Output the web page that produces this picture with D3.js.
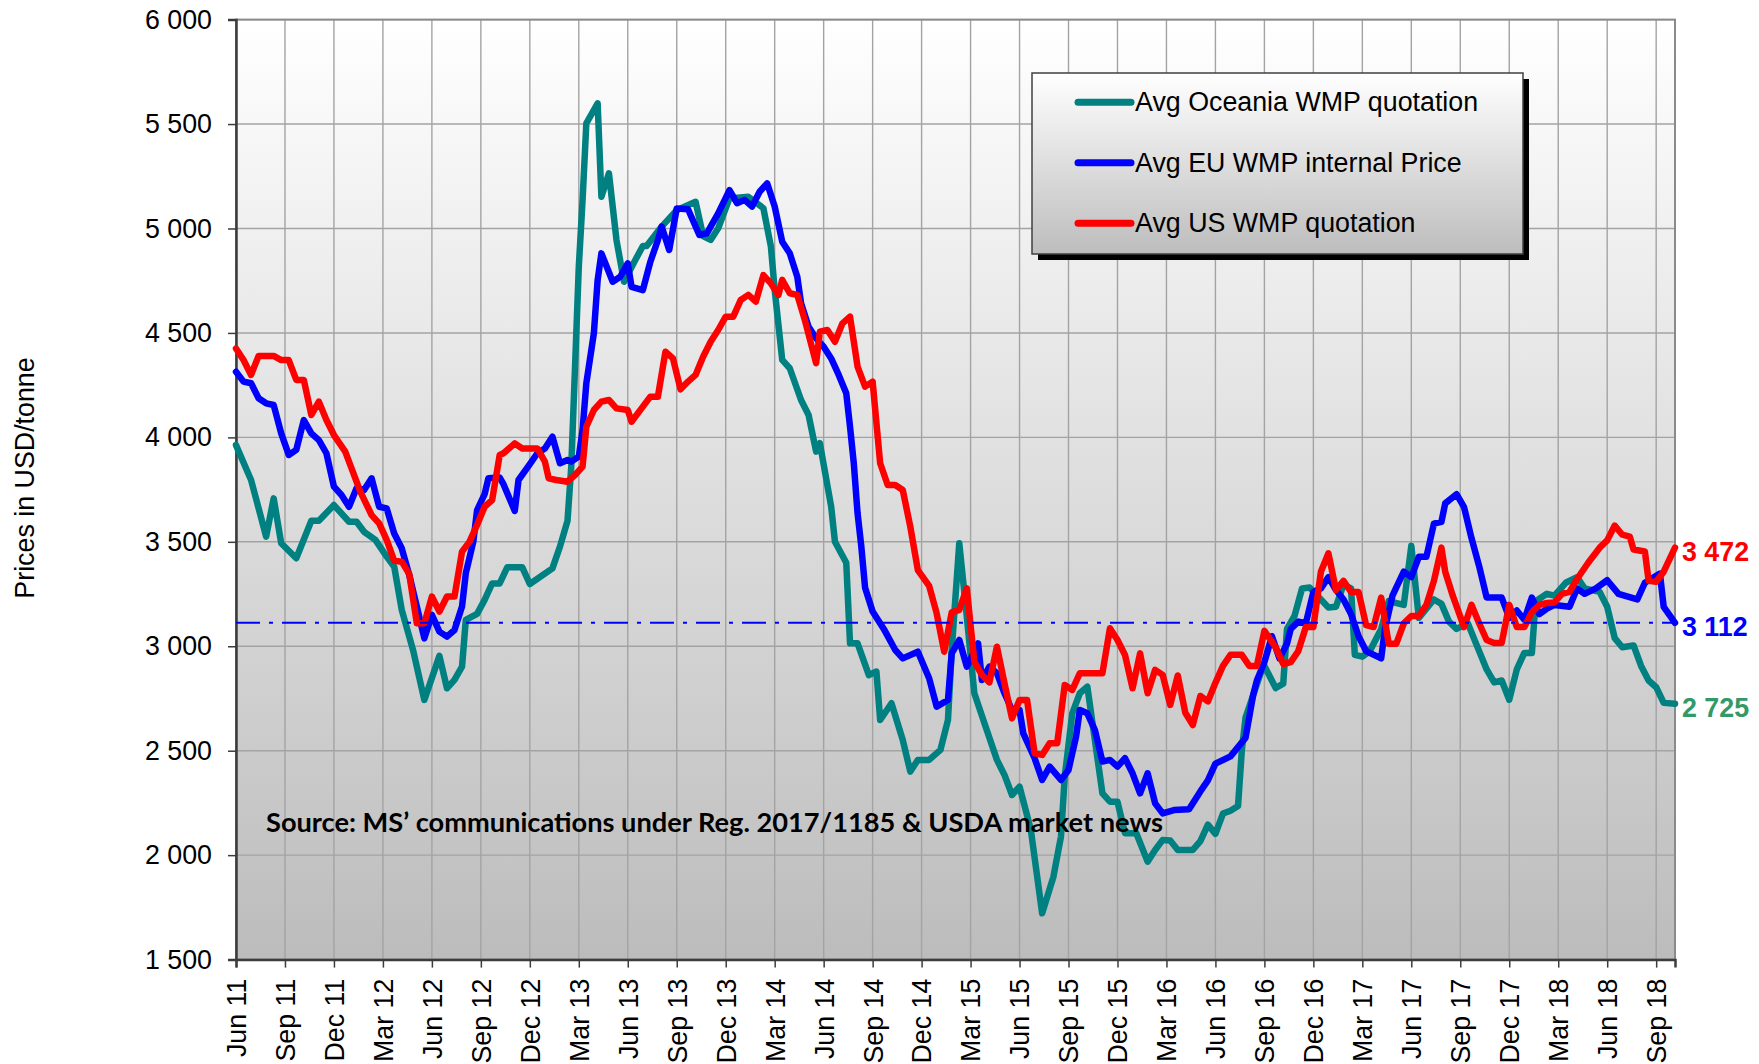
<!DOCTYPE html>
<html lang="en">
<head>
  <meta charset="UTF-8" />
  <title>Avg WMP prices</title>
  <script src="https://d3js.org/d3.v7.min.js"></script>
  <style>
    body { margin: 0; background: #fff; }
    svg text { font-family: "Liberation Sans", Arial, sans-serif; fill: #000; }
    .grid line { stroke: #a3a3a3; stroke-width: 1.4; }
    .series { fill: none; stroke-width: 6.5; stroke-linejoin: round; stroke-linecap: round; }
  </style>
</head>
<body>
  <svg id="chart" width="1759" height="1064"></svg>

  <script>
    // x = week number counted from the first week of June 2011, one label every 13 weeks
    const quarterLabels = ["Jun 11", "Sep 11", "Dec 11", "Mar 12", "Jun 12", "Sep 12", "Dec 12", "Mar 13",
      "Jun 13", "Sep 13", "Dec 13", "Mar 14", "Jun 14", "Sep 14", "Dec 14", "Mar 15", "Jun 15", "Sep 15",
      "Dec 15", "Mar 16", "Jun 16", "Sep 16", "Dec 16", "Mar 17", "Jun 17", "Sep 17", "Dec 17", "Mar 18",
      "Jun 18", "Sep 18"];
    const weeksPerLabel = 13;
    const lastWeek = 382;
    const yTicks = [1500, 2000, 2500, 3000, 3500, 4000, 4500, 5000, 5500, 6000];

    // [week, USD/tonne]
    const oceania = [[0,3963],[4,3796],[8,3525],[10,3708],[12,3493],[16,3421],[20,3601],[22,3601],[26,3676],
      [30,3596],[32,3596],[34,3548],[37,3509],[40,3429],[42,3381],[44,3174],[47,2982],[50,2743],[54,2954],
      [56,2799],[58,2839],[60,2902],[61,3126],[64,3155],[66,3222],[68,3301],[70,3301],[72,3378],[76,3378],
      [78,3298],[84,3373],[86,3477],[88,3600],[89,3860],[90,4338],[91,4817],[92,5136],[93,5503],[96,5599],
      [97,5152],[99,5264],[101,4945],[103,4745],[106,4849],[108,4916],[109,4916],[113,5009],[117,5088],
      [122,5128],[124,4964],[126,4945],[128,5001],[131,5144],[136,5152],[140,5097],[142,4913],[143,4706],
      [145,4371],[147,4331],[150,4179],[152,4107],[154,3932],[155,3972],[158,3668],[159,3500],[162,3400],
      [163,3014],[165,3014],[168,2862],[170,2879],[171,2647],[174,2727],[177,2551],[179,2400],[181,2456],
      [184,2456],[187,2504],[189,2647],[190,2982],[192,3493],[194,3142],[196,2775],[199,2615],[202,2456],
      [204,2384],[206,2288],[208,2328],[211,2121],[214,1722],[217,1897],[219,2089],[220,2376],[222,2679],
      [224,2775],[226,2807],[228,2551],[230,2296],[232,2256],[234,2256],[236,2105],[239,2105],[242,1969],
      [244,2025],[246,2073],[248,2070],[250,2025],[254,2025],[256,2067],[258,2146],[260,2102],[262,2199],
      [264,2213],[266,2235],[267,2500],[268,2659],[270,2765],[272,2871],[273,2906],[276,2800],[278,2821],
      [279,3083],[281,3145],[283,3277],[285,3281],[288,3224],[290,3186],[292,3189],[294,3295],[296,3277],
      [297,2959],[299,2950],[301,2977],[304,3083],[306,3216],[310,3198],[312,3481],[314,3136],[318,3224],
      [320,3203],[322,3118],[324,3083],[327,3110],[329,3021],[332,2889],[334,2827],[336,2836],[338,2744],
      [340,2889],[342,2968],[344,2968],[345,3216],[348,3251],[350,3242],[353,3304],[356,3331],[358,3277],
      [362,3260],[364,3189],[366,3039],[368,2995],[371,3004],[373,2906],[375,2836],[377,2804],[379,2729],
      [382,2725]];

    const euInternal = [[0,4314],[2,4267],[4,4259],[6,4187],[8,4163],[10,4155],[12,4019],[14,3916],[16,3940],
      [18,4083],[20,4019],[22,3987],[24,3924],[26,3764],[28,3724],[30,3668],[32,3756],[34,3748],[36,3804],
      [38,3668],[40,3660],[42,3540],[44,3469],[46,3341],[48,3190],[50,3038],[52,3150],[54,3070],[56,3046],
      [58,3078],[60,3190],[61,3349],[63,3501],[64,3652],[66,3728],[67,3804],[70,3808],[71,3776],[74,3648],
      [75,3796],[78,3872],[80,3924],[82,3947],[84,4003],[86,3876],[88,3892],[89,3884],[91,3908],[92,4035],
      [93,4259],[95,4498],[96,4753],[97,4881],[100,4745],[102,4769],[104,4833],[105,4721],[108,4705],
      [110,4841],[112,4945],[113,5009],[115,4897],[117,5096],[120,5092],[123,4969],[125,4977],[128,5072],
      [131,5184],[133,5121],[135,5137],[137,5105],[139,5176],[141,5216],[143,5105],[145,4937],[147,4881],
      [149,4769],[150,4642],[152,4530],[154,4474],[156,4434],[158,4378],[160,4299],[162,4211],[163,4051],
      [164,3876],[165,3637],[166,3477],[167,3280],[169,3166],[172,3082],[175,2982],[177,2942],[181,2974],
      [184,2847],[186,2711],[189,2743],[190,2966],[192,3030],[194,2902],[197,3014],[198,2839],[200,2902],
      [202,2871],[204,2775],[206,2695],[208,2695],[209,2583],[212,2464],[214,2360],[216,2424],[219,2360],
      [221,2408],[223,2567],[224,2695],[226,2679],[228,2599],[230,2448],[232,2456],[234,2424],[236,2464],
      [238,2392],[240,2296],[242,2392],[244,2248],[246,2200],[249,2216],[253,2220],[256,2305],[258,2358],
      [260,2438],[264,2473],[266,2517],[268,2562],[270,2765],[271,2836],[273,2924],[275,3048],[277,2942],
      [279,3012],[280,3083],[282,3118],[284,3110],[286,3260],[288,3277],[290,3331],[292,3269],[294,3224],
      [296,3154],[298,3048],[300,2977],[304,2942],[305,3083],[307,3242],[310,3357],[312,3331],[314,3428],
      [316,3428],[318,3587],[320,3596],[321,3684],[324,3728],[326,3666],[328,3516],[330,3384],[332,3233],
      [336,3233],[338,3136],[340,3171],[342,3127],[344,3233],[346,3154],[348,3180],[350,3198],[354,3189],
      [356,3277],[358,3251],[361,3277],[364,3316],[367,3251],[372,3224],[374,3304],[378,3348],[379,3189],
      [382,3112]];

    const usQuotation = [[0,4426],[2,4370],[4,4299],[6,4390],[10,4390],[12,4370],[14,4370],[16,4275],[18,4275],
      [20,4107],[22,4171],[24,4083],[26,4011],[29,3932],[31,3836],[33,3740],[36,3628],[38,3588],[40,3509],
      [42,3409],[44,3405],[46,3345],[48,3110],[50,3110],[52,3238],[54,3166],[56,3238],[58,3238],[60,3453],
      [62,3501],[64,3581],[66,3668],[68,3700],[70,3916],[71,3924],[74,3971],[76,3947],[80,3947],[82,3884],
      [83,3804],[85,3796],[88,3788],[90,3820],[92,3860],[93,4051],[95,4131],[97,4171],[99,4179],[101,4139],
      [104,4131],[105,4075],[108,4147],[110,4195],[112,4195],[114,4410],[116,4378],[118,4230],[120,4267],
      [122,4299],[124,4386],[126,4458],[128,4514],[130,4578],[132,4578],[134,4658],[136,4682],[138,4650],
      [140,4777],[142,4737],[144,4682],[145,4754],[147,4690],[149,4682],[151,4562],[154,4355],[155,4506],
      [157,4514],[159,4458],[161,4546],[163,4578],[165,4339],[167,4243],[169,4267],[171,3876],[173,3772],
      [175,3772],[177,3748],[179,3573],[181,3365],[184,3289],[186,3158],[188,2974],[190,3162],[192,3174],
      [194,3277],[196,2926],[198,2863],[200,2827],[202,2998],[204,2823],[206,2655],[208,2743],[210,2743],
      [212,2488],[214,2480],[216,2536],[218,2536],[220,2815],[222,2791],[224,2871],[230,2871],[232,3086],
      [234,3030],[236,2958],[238,2799],[240,2966],[242,2775],[244,2887],[246,2863],[248,2719],[250,2860],
      [252,2682],[254,2623],[256,2762],[258,2736],[260,2825],[262,2906],[264,2959],[267,2959],[269,2906],
      [271,2906],[273,3074],[276,2995],[278,2915],[280,2924],[282,2977],[284,3092],[286,3092],[288,3357],
      [290,3445],[292,3269],[294,3313],[296,3260],[298,3260],[300,3101],[302,3092],[304,3233],[306,3012],
      [308,3012],[310,3110],[312,3145],[314,3145],[316,3198],[318,3313],[320,3472],[321,3357],[323,3242],
      [326,3092],[328,3198],[330,3110],[332,3030],[334,3016],[336,3016],[338,3198],[340,3092],[342,3092],
      [344,3163],[346,3198],[348,3207],[350,3210],[352,3251],[354,3260],[356,3322],[359,3401],[362,3472],
      [364,3507],[366,3578],[368,3534],[370,3525],[371,3463],[374,3454],[375,3313],[377,3309],[379,3357],
      [382,3472]];

    const seriesNames = ["Avg Oceania WMP quotation", "Avg EU WMP internal Price", "Avg US WMP quotation"];
    const seriesColors = ["#008080", "#0000ff", "#ff0000"];
    const labelColors = ["#339966", "#0000ff", "#ff0000"];
    const euReference = 3112;
    const sourceNote = "Source: MS\u2019 communications under Reg. 2017/1185 & USDA market news";

    const fontSize = "26.8px";
    const svg = d3.select("#chart");
    const plot = { left: 236, right: 1675, top: 19.6, bottom: 959.6 };

    const x = d3.scaleLinear().domain([0, lastWeek]).range([plot.left, plot.right]);
    const y = d3.scaleLinear().domain([1500, 6000]).range([plot.bottom, plot.top]);
    const fmt = d3.formatLocale({ decimal: ".", thousands: " ", grouping: [3], currency: ["", ""] }).format(",");

    // gradients
    const defs = svg.append("defs");
    const plotGrad = defs.append("linearGradient").attr("id", "plotBg")
      .attr("x1", 0).attr("y1", 0).attr("x2", 0).attr("y2", 1);
    plotGrad.append("stop").attr("offset", "0%").attr("stop-color", "#ffffff");
    plotGrad.append("stop").attr("offset", "100%").attr("stop-color", "#bcbcbc");
    const legGrad = defs.append("linearGradient").attr("id", "legendBg")
      .attr("x1", 0).attr("y1", 0).attr("x2", 0).attr("y2", 1);
    legGrad.append("stop").attr("offset", "0%").attr("stop-color", "#ffffff");
    legGrad.append("stop").attr("offset", "100%").attr("stop-color", "#bdbdbd");

    svg.append("rect")
      .attr("x", plot.left).attr("y", plot.top)
      .attr("width", plot.right - plot.left).attr("height", plot.bottom - plot.top)
      .attr("fill", "url(#plotBg)");

    // grid
    const quarterWeeks = quarterLabels.map((d, i) => i * weeksPerLabel);
    const grid = svg.append("g").attr("class", "grid");
    grid.selectAll(".vg").data(quarterWeeks.slice(1)).enter().append("line")
      .attr("x1", d => x(d)).attr("x2", d => x(d))
      .attr("y1", plot.top).attr("y2", plot.bottom);
    grid.selectAll(".hg").data(yTicks.slice(1)).enter().append("line")
      .attr("x1", plot.left).attr("x2", plot.right)
      .attr("y1", d => y(d)).attr("y2", d => y(d));

    // frame
    svg.append("rect")
      .attr("x", plot.left).attr("y", plot.top)
      .attr("width", plot.right - plot.left).attr("height", plot.bottom - plot.top)
      .attr("fill", "none").attr("stroke", "#8a8a8a").attr("stroke-width", 2);

    // axes
    const yAxis = svg.append("g")
      .attr("transform", `translate(${plot.left},0)`)
      .call(d3.axisLeft(y).tickValues(yTicks).tickSize(8).tickPadding(16).tickFormat(fmt));
    yAxis.select(".domain").attr("stroke", "#3c3c3c").attr("stroke-width", 2.5);
    yAxis.selectAll(".tick line").attr("stroke", "#3c3c3c").attr("stroke-width", 1.5);
    yAxis.selectAll(".tick text").style("font-size", fontSize)
      .style("font-family", '"Liberation Sans", Arial, sans-serif').attr("fill", "#000");

    const xAxis = svg.append("g")
      .attr("transform", `translate(0,${plot.bottom})`)
      .call(d3.axisBottom(x).tickValues(quarterWeeks).tickSize(8)
        .tickFormat((d, i) => quarterLabels[i]));
    xAxis.select(".domain").attr("stroke", "#3c3c3c").attr("stroke-width", 2.5);
    xAxis.selectAll(".tick line").attr("stroke", "#3c3c3c").attr("stroke-width", 1.5);
    xAxis.selectAll(".tick text")
      .style("font-size", fontSize)
      .style("font-family", '"Liberation Sans", Arial, sans-serif')
      .attr("fill", "#000")
      .attr("text-anchor", "end")
      .attr("dy", "0.35em")
      .attr("transform", "translate(0,19) rotate(-90)")
      .attr("x", 0).attr("y", 0);

    // y title
    svg.append("text")
      .attr("transform", "translate(25,478) rotate(-90)")
      .attr("text-anchor", "middle").attr("dominant-baseline", "central")
      .style("font-size", fontSize)
      .text("Prices in USD/tonne");

    // series
    const line = d3.line().x(d => x(d[0])).y(d => y(d[1]));
    const allSeries = [oceania, euInternal, usQuotation];
    svg.selectAll(".series").data(allSeries).enter().append("path")
      .attr("class", "series")
      .attr("stroke", (d, i) => seriesColors[i])
      .attr("d", line);

    // EU reference line
    svg.append("line")
      .attr("x1", plot.left).attr("x2", plot.right)
      .attr("y1", y(euReference)).attr("y2", y(euReference))
      .attr("stroke", "#0000ff").attr("stroke-width", 2)
      .attr("stroke-dasharray", "24,9,4,9");

    // end labels
    svg.selectAll(".endlabel").data(allSeries).enter().append("text")
      .attr("x", plot.right + 7)
      .attr("y", d => y(d[d.length - 1][1]) + 4)
      .attr("dominant-baseline", "central")
      .style("font-size", fontSize).style("font-weight", "bold")
      .style("fill", (d, i) => labelColors[i])
      .text(d => fmt(d[d.length - 1][1]));

    // source note
    svg.append("text")
      .attr("x", 266).attr("y", 832)
      .attr("textLength", 897).attr("lengthAdjust", "spacingAndGlyphs")
      .style("font-family", "Lato, 'Open Sans', sans-serif")
      .style("font-size", "27px").style("font-weight", "bold")
      .text(sourceNote);

    // legend
    const legend = { x: 1032, y: 73, w: 491, h: 181 };
    svg.append("rect")
      .attr("x", legend.x + 6).attr("y", legend.y + 6)
      .attr("width", legend.w).attr("height", legend.h).attr("fill", "#000");
    svg.append("rect")
      .attr("x", legend.x).attr("y", legend.y)
      .attr("width", legend.w).attr("height", legend.h)
      .attr("fill", "url(#legendBg)").attr("stroke", "#404040").attr("stroke-width", 1.5);
    const rows = svg.selectAll(".legrow").data(seriesNames).enter().append("g")
      .attr("transform", (d, i) => `translate(${legend.x},${legend.y + 29.3 + i * 60.5})`);
    rows.append("line")
      .attr("x1", 46).attr("x2", 99).attr("y1", 0).attr("y2", 0)
      .attr("stroke", (d, i) => seriesColors[i]).attr("stroke-width", 7)
      .attr("stroke-linecap", "round");
    rows.append("text")
      .attr("x", 103).attr("y", 0).attr("dominant-baseline", "central")
      .style("font-size", fontSize)
      .text(d => d);
  </script>
</body>
</html>
